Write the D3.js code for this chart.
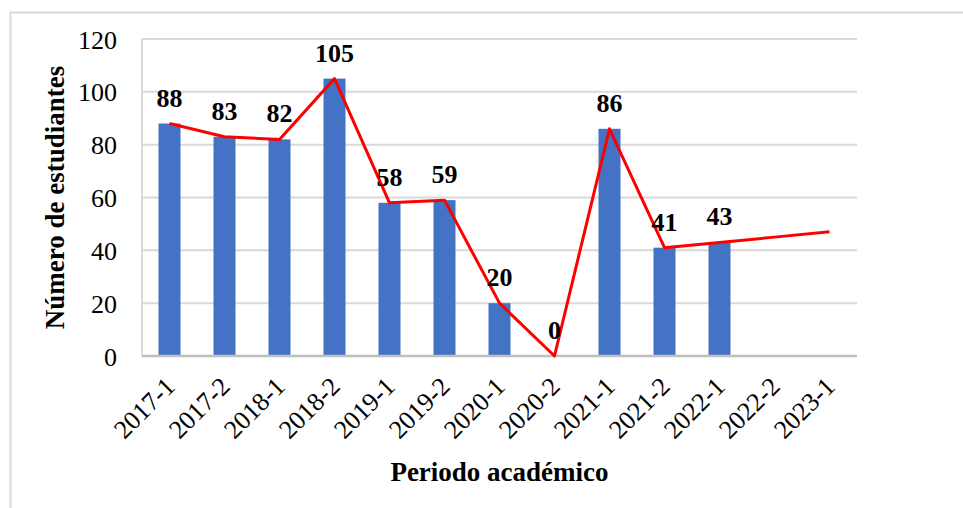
<!DOCTYPE html>
<html>
<head>
<meta charset="utf-8">
<script src="https://cdn.jsdelivr.net/npm/d3@7"></script>
<style>
  body { margin: 0; background: #fff; }
  text { font-family: "Liberation Serif", "Times New Roman", serif; }
</style>
</head>
<body>
<div id="chart"></div>
<script>
// datos
var periodos = ['2017-1', '2017-2', '2018-1', '2018-2', '2019-1', '2019-2', '2020-1',
    '2020-2', '2021-1', '2021-2', '2022-1', '2022-2', '2023-1'];
var estudiantes = [88, 83, 82, 105, 58, 59, 20, 0, 86, 41, 43, null, null];
var tendencia = [88, 83, 82, 105, 58, 59, 20, 0, 86, 41, 43, 45, 47];
var yTicks = [0, 20, 40, 60, 80, 100, 120];

var width = 963, height = 508;
var margin = { top: 39, right: 106, bottom: 152, left: 142 };
var w = width - margin.left - margin.right,
    h = height - margin.top - margin.bottom;

var svg = d3.select('#chart')
    .append('svg')
    .attr('width', width)
    .attr('height', height);

// marco exterior
svg.append('rect')
    .attr('x', 10.5).attr('y', 12.5)
    .attr('width', 960).attr('height', 510)
    .attr('fill', 'none')
    .attr('stroke', '#d9d9d9')
    .attr('stroke-width', 2);

var g = svg.append('g')
    .attr('transform', 'translate(' + margin.left + ',' + margin.top + ')');

var x = d3.scaleBand()
    .domain(periodos)
    .range([0, w])
    .paddingInner(0.6)
    .paddingOuter(0.3);

var y = d3.scaleLinear()
    .domain([0, 120])
    .range([h, 0]);

var xc = function (d, i) { return x(periodos[i]) + x.bandwidth() / 2; };

// grid
g.selectAll('.grid')
    .data(yTicks).enter()
    .append('line')
    .attr('x1', 0).attr('x2', w)
    .attr('y1', function (d) { return y(d); })
    .attr('y2', function (d) { return y(d); })
    .attr('stroke', '#d9d9d9')
    .attr('stroke-width', 2);

g.append('line')
    .attr('x1', 0).attr('x2', 0)
    .attr('y1', 0).attr('y2', h)
    .attr('stroke', '#d9d9d9')
    .attr('stroke-width', 2);

// eje y
var yAxis = g.append('g')
    .call(d3.axisLeft(y).tickValues(yTicks).tickSize(0).tickPadding(25));
yAxis.select('.domain').remove();
yAxis.selectAll('text')
    .style('font-family', '"Liberation Serif", serif')
    .style('font-size', '26px')
    .attr('fill', '#000')
    .attr('dy', '0.35em');

// barras
g.selectAll('.bar')
    .data(estudiantes).enter()
    .append('rect')
    .filter(function (d) { return d !== null; })
    .attr('x', function (d, i) { return x(periodos[i]); })
    .attr('y', function (d) { return y(d); })
    .attr('width', x.bandwidth())
    .attr('height', function (d) { return h - y(d); })
    .attr('fill', '#4472c4');

// eje x
g.append('line')
    .attr('x1', 0).attr('x2', w)
    .attr('y1', h).attr('y2', h)
    .attr('stroke', '#bfbfbf')
    .attr('stroke-width', 2.5);

var xAxis = g.append('g')
    .attr('transform', 'translate(0,' + h + ')')
    .call(d3.axisBottom(x).tickSize(0).tickPadding(0));
xAxis.select('.domain').remove();
xAxis.selectAll('text')
    .style('font-family', '"Liberation Serif", serif')
    .style('font-size', '26px')
    .attr('fill', '#000')
    .attr('text-anchor', 'end')
    .attr('dy', null)
    .attr('y', 0)
    .attr('transform', 'translate(7,32) rotate(-45)');

// linea roja
var line = d3.line()
    .x(xc)
    .y(function (d) { return y(d); });

g.append('path')
    .datum(tendencia)
    .attr('d', line)
    .attr('fill', 'none')
    .attr('stroke', '#ff0000')
    .attr('stroke-width', 3)
    .attr('stroke-linejoin', 'round');

// etiquetas
g.selectAll('.lbl')
    .data(estudiantes).enter()
    .append('text')
    .filter(function (d) { return d !== null; })
    .attr('x', xc)
    .attr('y', function (d) { return y(d) - 17; })
    .attr('text-anchor', 'middle')
    .style('font-size', '26px')
    .style('font-weight', 'bold')
    .attr('fill', '#000')
    .text(function (d) { return d; });

// titulos
svg.append('text')
    .attr('transform', 'translate(64,' + (margin.top + h / 2) + ') rotate(-90)')
    .attr('text-anchor', 'middle')
    .style('font-size', '27px')
    .style('font-weight', 'bold')
    .text('Número de estudiantes');

svg.append('text')
    .attr('x', margin.left + w / 2)
    .attr('y', 481)
    .attr('text-anchor', 'middle')
    .style('font-size', '27px')
    .style('font-weight', 'bold')
    .text('Periodo académico');
</script>
</body>
</html>
